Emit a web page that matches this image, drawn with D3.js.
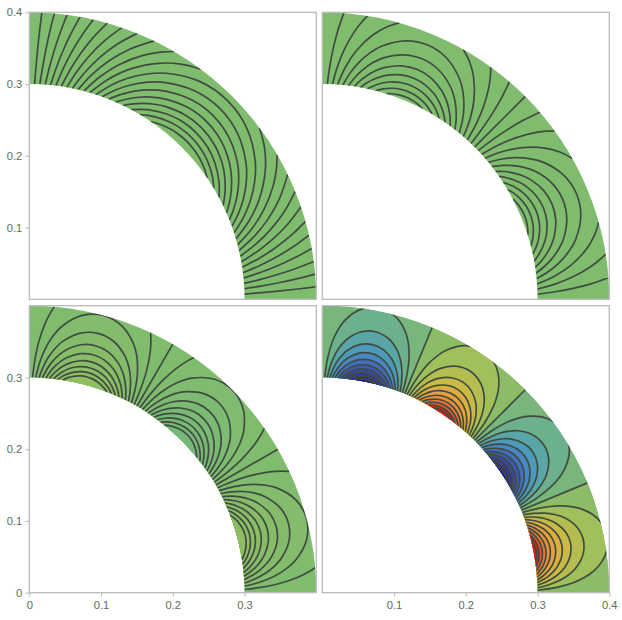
<!DOCTYPE html>
<html>
<head>
<meta charset="utf-8">
<script src="https://cdn.jsdelivr.net/npm/d3@7"></script>
<style>
  html, body { margin: 0; padding: 0; background: #fff; }
  svg { display: block; }
  .tick text { font-family: "Liberation Sans", Arial, sans-serif; font-size: 11.2px; fill: #5a6c5a; }
  .tick line { stroke: #bbb; }
  .domain { display: none; }
</style>
</head>
<body>
<svg id="chart" width="622" height="620"></svg>
<script>
// contours, as [degrees away from the lobe edge, radius]
// each one runs from the inner circle up to the middle of its lobe
// the ones that stop at r = 0.4 leave the ring before they get to the middle
const contours1 = [
  [[1.40,.3],[1.65,.325],[1.91,.35],[2.2,.375],[2.50,.4]],
  [[2.81,.3],[3.3,.325],[3.83,.35],[4.4,.375],[5.02,.4]],
  [[4.23,.3],[4.97,.325],[5.77,.35],[6.64,.375],[7.57,.4]],
  [[5.65,.3],[6.65,.325],[7.74,.35],[8.92,.375],[10.2,.4]],
  [[7.09,.3],[8.35,.325],[9.74,.35],[11.25,.375],[12.91,.4]],
  [[8.55,.3],[10.09,.325],[11.79,.35],[13.67,.375],[15.76,.4]],
  [[10.03,.3],[11.87,.325],[13.91,.35],[16.2,.375],[18.79,.4]],
  [[11.54,.3],[13.7,.325],[16.12,.35],[18.88,.375],[22.09,.4]],
  [[13.08,.3],[15.58,.325],[18.44,.35],[21.78,.375],[25.8,.4]],
  [[14.67,.3],[17.55,.325],[20.91,.35],[24.98,.375],[27.95,.39],[30.3,.4]],
  [[16.31,.3],[19.62,.325],[23.59,.35],[28.7,.375],[32.8,.39],[36.67,.4]],
  [[18,.3],[21,.32],[23.87,.3365],[27.5,.354],[31.23,.3684],[38,.3854],[45,.3912]],
  [[19.78,.3],[22.5,.3161],[25.3,.3304],[28.7,.345],[32.2,.3569],[38.5,.371],[45,.3759]],
  [[21.66,.3],[24,.3122],[26.78,.3249],[30,.3371],[33.17,.3467],[39,.3582],[45,.3622]],
  [[23.65,.3],[26,.3106],[28.37,.32],[31.2,.3294],[34.2,.3374],[39.5,.3467],[45,.3499]],
  [[25.81,.3],[28,.3085],[30.07,.3155],[32.7,.3231],[35.3,.3291],[40,.3362],[45,.3388]],
  [[28.2,.3],[31.95,.3115],[36.55,.3215],[40.5,.3267],[45,.3287]],
  [[30.95,.3],[34.1,.3078],[37.95,.3146],[41.2,.318],[45,.3194]],
  [[34.3,.3],[36.7,.3044],[39.65,.3082],[42,.3101],[45,.3109]]
];
const contours2 = [
  [[1.34,.3],[1.85,.325],[2.5,.35],[3.3,.375],[4.3,.4]],
  [[2.69,.3],[3.73,.325],[5.07,.35],[6.79,.375],[8.07,.39],[9.05,.4]],
  [[4.07,.3],[5.68,.325],[7.83,.35],[10.8,.375],[13.3,.39],[15.6,.4]],
  [[5.49,.3],[7,.3176],[8.7,.3334],[11,.3502],[13.26,.3627],[17.9,.3786],[22.5,.3836]],
  [[6.97,.3],[8.4,.3129],[10.04,.3251],[12,.3369],[14.2,.3471],[18.3,.3589],[22.5,.3628]],
  [[8.53,.3],[9.9,.3098],[11.4,.3186],[13.2,.3275],[15.2,.335],[18.8,.3437],[22.5,.3466]],
  [[10.2,.3],[11.4,.3067],[12.8,.3134],[14.4,.3197],[16.1,.3251],[19.3,.3314],[22.5,.3335]],
  [[12.1,.3],[14.3,.309],[17.2,.317],[19.8,.3211],[22.5,.3226]],
  [[14.3,.3],[16.1,.3053],[18.35,.3099],[20.4,.3124],[22.5,.3132]],
  [[17.3,.3],[18.45,.302],[19.9,.3038],[22.5,.3051]]
];
const contours3 = [
  [[.85,.3],[1.38,.325],[2.16,.35],[3.31,.375],[4.24,.39],[5,.4]],
  [[1.71,.3],[2.6,.3214],[3.69,.34],[5.2,.3584],[7.13,.375],[10.8,.3934],[15,.4]],
  [[2.58,.3],[3.5,.3151],[4.66,.3296],[6.2,.3438],[7.94,.3554],[11.4,.3694],[15,.3739]],
  [[3.48,.3],[4.4,.3113],[5.55,.3225],[7,.3333],[8.6,.3422],[11.8,.353],[15,.3563]],
  [[4.4,.3],[5.3,.3086],[6.4,.3173],[7.8,.3257],[9.27,.3325],[12.1,.3407],[15,.3433]],
  [[5.38,.3],[6.3,.307],[7.29,.3132],[8.6,.3198],[9.89,.3248],[12.4,.331],[15,.3331]],
  [[6.42,.3],[8.19,.3098],[10.5,.3185],[12.7,.323],[15,.3246]],
  [[7.57,.3],[9.15,.307],[11.17,.3131],[13,.3163],[15,.3175]],
  [[8.87,.3],[10.2,.3045],[11.9,.3085],[13.4,.3106],[15,.3113]]
];
const contours4 = [
  [[.65,.3],[1.3,.3268],[2.28,.35],[3.4,.367],[4.64,.38],[6.3,.3918],[8.19,.4],[11.25,.405]],
  [[1.31,.3],[1.9,.314],[2.76,.3285],[3.9,.3419],[5.31,.3534],[7.85,.3658],[11.25,.3712]],
  [[1.98,.3],[2.7,.3114],[3.51,.3212],[4.6,.331],[5.94,.3397],[8.5,.3495],[11.25,.3529]],
  [[2.67,.3],[3.4,.3086],[4.2,.3162],[5.2,.3234],[6.48,.3303],[8.8,.3379],[11.25,.3404]],
  [[3.39,.3],[4.1,.3066],[4.88,.3124],[5.8,.3179],[6.98,.3233],[9,.3289],[11.25,.331]],
  [[4.14,.3],[5.55,.3094],[7.45,.3176],[9.2,.3218],[11.25,.3235]],
  [[4.95,.3],[6.24,.3069],[7.94,.313],[9.4,.316],[11.25,.3173]],
  [[5.85,.3],[6.98,.3048],[8.46,.3091],[9.7,.3112],[11.25,.3121]],
  [[6.89,.3],[7.82,.303],[9,.3056],[11.25,.3075]],
  [[8.2,.3],[8.87,.3014],[9.68,.3026],[11.25,.3035]]
];

// lobe edges in degrees, the inner ones carry a straight contour
const edges1 = [90, 0];
const edges2 = [90, 45, 0];
const edges3 = [90, 60, 30, 0];
const edges4 = [90, 67.5, 45, 22.5, 0];

// band colours, one per contour from the outside in
const warm4 = ["#a0c05c", "#b5bd50", "#c9b945", "#dcae40", "#eaa03c", "#ee8d3a", "#ee7635", "#e55a2e", "#d92020", "#d81e1e"];
const cool4 = ["#6cb08c", "#5aa6a6", "#4d99b9", "#4886c4", "#436fc0", "#3e5ab8", "#3947ad", "#3436a3", "#2e2596", "#2a1c8a"];
const warm3 = [null, "#83bc6c", "#85bc6b", "#87bc69", "#89bc68", "#8bbc66", "#8dbd65", "#8fbd63", "#91bd62"];
const cool3 = [null, "#7fbb70", "#7dba72", "#7cb973", "#7bb974", "#7ab875", "#79b876", "#78b777", "#77b778"];
const zero4 = ["#78b67c", "#8cbc66", "#78b67c", "#8cbc66"];

const xTicks3 = [0, 0.1, 0.2, 0.3];
const xTicks4 = [0.1, 0.2, 0.3, 0.4];
const yTicks1 = [0.1, 0.2, 0.3, 0.4];
const yTicks3 = [0, 0.1, 0.2, 0.3];

const panels = [
  { id: 1, left: 29.3, top: 12.3, contours: contours1, edges: edges1, yTicks: yTicks1 },
  { id: 2, left: 322.3, top: 12.3, contours: contours2, edges: edges2 },
  { id: 3, left: 29.3, top: 305.7, contours: contours3, edges: edges3, xTicks: xTicks3, yTicks: yTicks3,
    fills: [warm3, cool3, warm3] },
  { id: 4, left: 322.3, top: 305.7, contours: contours4, edges: edges4, xTicks: xTicks4,
    fills: [cool4, warm4, cool4, warm4], zero: zero4 }
];

const size = 287;
const rad = d => d * Math.PI / 180;
const svg = d3.select("#chart");

panels.forEach(drawPanel);

function drawPanel(p) {
  const x = d3.scaleLinear().domain([0, 0.4]).range([0, size]);
  const y = d3.scaleLinear().domain([0, 0.4]).range([size, 0]);
  const g = svg.append("g").attr("transform", `translate(${p.left},${p.top})`);

  const ring = d3.arc()
    .innerRadius(x(0.3))
    .outerRadius(x(0.4))
    .startAngle(0)
    .endAngle(Math.PI / 2);

  g.append("clipPath").attr("id", "ring" + p.id)
    .append("path")
    .attr("transform", `translate(${x(0)},${y(0)})`)
    .attr("d", ring());

  const inside = g.append("g").attr("clip-path", `url(#ring${p.id})`);

  inside.append("rect")
    .attr("width", size).attr("height", size)
    .attr("fill", "#80bc6e");

  const line = d3.line()
    .x(d => x(d[1] * Math.cos(rad(d[0]))))
    .y(d => y(d[1] * Math.sin(rad(d[0]))))
    .curve(d3.curveCatmullRom.alpha(0.5));

  const lobes = d3.pairs(p.edges);

  // faint sector under the first band of each lobe
  if (p.zero) {
    lobes.forEach(([a, b], i) => {
      inside.append("path")
        .attr("transform", `translate(${x(0)},${y(0)})`)
        .attr("d", d3.arc().innerRadius(x(0.3)).outerRadius(x(0.4))
          .startAngle(rad(90 - a)).endAngle(rad(90 - b))())
        .attr("fill", p.zero[i]);
    });
  }

  const strokes = [];
  lobes.forEach(([a, b], i) => {
    const half = (a - b) / 2;
    p.contours.forEach((c, k) => {
      const down = c.map(d => [a - d[0], d[1]]);
      const up = c.map(d => [b + d[0], d[1]]);
      if (c[c.length - 1][0] === half) {
        const whole = down.concat(up.slice(0, -1).reverse());
        strokes.push(whole);
        const fill = p.fills && p.fills[i][k];
        if (fill) {
          inside.append("path")
            .attr("d", line(whole) + "Z")
            .attr("fill", fill);
        }
      } else {
        strokes.push(down, up);
      }
    });
  });

  // straight contours between lobes
  p.edges.slice(1, -1).forEach(e => strokes.push([[e, 0.3], [e, 0.4]]));

  inside.selectAll("path.contour")
    .data(strokes)
    .join("path")
    .attr("class", "contour")
    .attr("d", line)
    .attr("fill", "none")
    .attr("stroke", "#3f4d41")
    .attr("stroke-width", 1.7);

  g.append("rect")
    .attr("width", size).attr("height", size)
    .attr("fill", "none")
    .attr("stroke", "#bbb")
    .attr("stroke-width", 1.3);

  if (p.yTicks) {
    g.append("g")
      .call(d3.axisLeft(y).tickValues(p.yTicks).tickSize(4).tickPadding(3).tickFormat(d => d === 0 ? "0" : d));
  }
  if (p.xTicks) {
    g.append("g")
      .attr("transform", `translate(0,${size})`)
      .call(d3.axisBottom(x).tickValues(p.xTicks).tickSize(4).tickPadding(4).tickFormat(d => d === 0 ? "0" : d));
  }
}
</script>
</body>
</html>
